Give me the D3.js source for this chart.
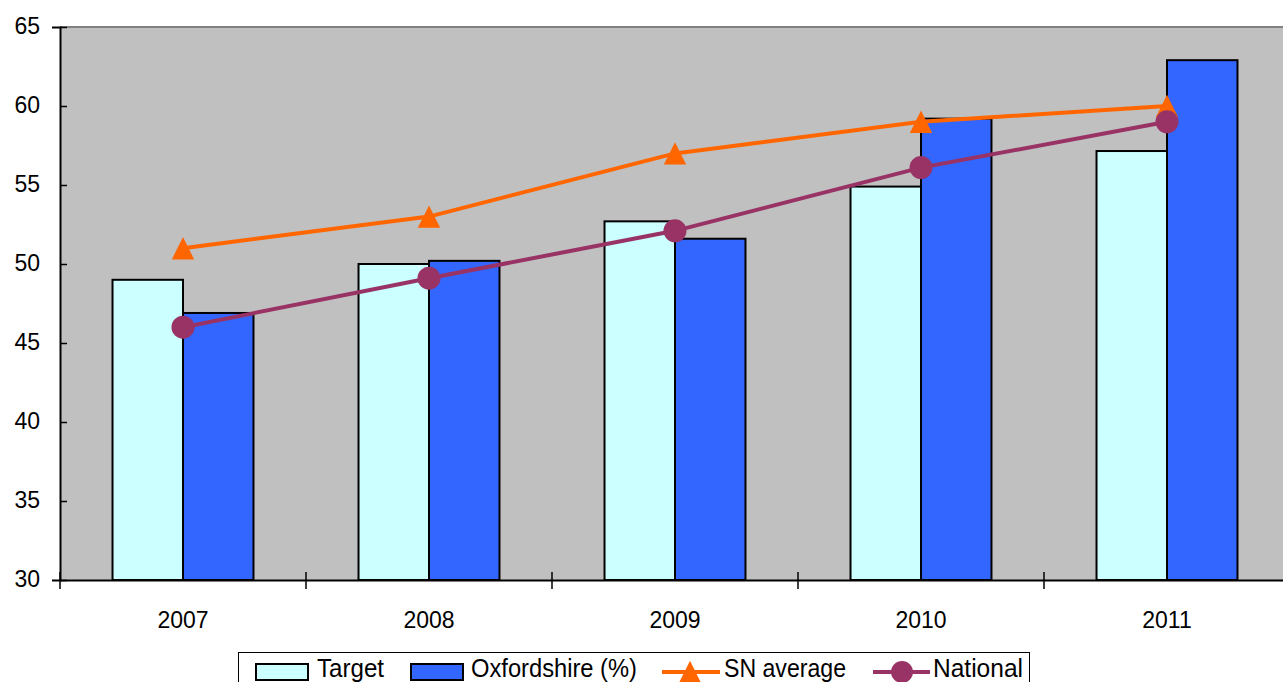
<!DOCTYPE html>
<html>
<head>
<meta charset="utf-8">
<script src="https://cdn.jsdelivr.net/npm/d3@7"></script>
<style>
    body { margin: 0; background: #fff; overflow: hidden; }
    svg { display: block; font-family: Arial, "Liberation Sans", sans-serif; }
</style>
</head>
<body>
<div id="chart"></div>
<script>

// chart data
let years = ["2007", "2008", "2009", "2010", "2011"];
let target = [49, 50, 52.7, 54.9, 57.15];
let oxfordshire = [46.9, 50.2, 51.6, 59.2, 62.9];
let snAverage = [51, 53, 57, 59, 60];
let national = [46, 49.1, 52.1, 56.1, 59];
let yTicks = [30, 35, 40, 45, 50, 55, 60, 65];

let margin = {top: 27, right: -7, bottom: 102, left: 60};
let width = 1283 - margin.left - margin.right;
let height = 682 - margin.top - margin.bottom;

let svg = d3.select("#chart").append("svg")
    .attr("width", 1283)
    .attr("height", 682)
    .append("g")
    .attr("transform", `translate(${margin.left}, ${margin.top})`);

// excel style triangle, centred on its bounding box
let excelTriangle = {
    draw(context, size) {
        let h = Math.sqrt(size);
        context.moveTo(0, -h / 2);
        context.lineTo(h / 2, h / 2);
        context.lineTo(-h / 2, h / 2);
        context.closePath();
    }
};

// scales
let x = d3.scaleBand()
    .domain(years)
    .range([0, width])
    .paddingInner(0.427)
    .paddingOuter(0.2135);

let xSub = d3.scaleBand()
    .domain(["target", "oxon"])
    .range([0, x.bandwidth()]);

let y = d3.scaleLinear()
    .domain([30, 65])
    .range([height, 0]);

// plot background
svg.append("rect")
    .attr("x", 0)
    .attr("y", 0)
    .attr("width", width)
    .attr("height", height)
    .attr("fill", "#c0c0c0");

svg.append("line")
    .attr("x1", 0).attr("x2", width)
    .attr("y1", 0).attr("y2", 0)
    .attr("stroke", "#808080")
    .attr("stroke-width", 2);

// bars
let rows = years.map((d, i) => ({year: d, target: target[i], oxon: oxfordshire[i]}));

let groups = svg.selectAll(".year")
    .data(rows)
    .enter()
    .append("g")
    .attr("class", "year")
    .attr("transform", d => `translate(${x(d.year)}, 0)`);

groups.append("rect")
    .attr("x", xSub("target"))
    .attr("y", d => y(d.target))
    .attr("width", xSub.bandwidth())
    .attr("height", d => height - y(d.target))
    .attr("fill", "#ccffff")
    .attr("stroke", "#000")
    .attr("stroke-width", 2);

groups.append("rect")
    .attr("x", xSub("oxon"))
    .attr("y", d => y(d.oxon))
    .attr("width", xSub.bandwidth())
    .attr("height", d => height - y(d.oxon))
    .attr("fill", "#3366ff")
    .attr("stroke", "#000")
    .attr("stroke-width", 2);

// axes
let yAxis = d3.axisLeft(y).tickValues(yTicks).tickSize(8).tickPadding(12);
let yG = svg.append("g").attr("class", "axis y-axis").call(yAxis);
yG.select(".domain").attr("stroke", "#000").attr("stroke-width", 2);
yG.selectAll(".tick line").attr("x2", 7).attr("stroke", "#000").attr("stroke-width", 1.5);
yG.selectAll(".tick text")
    .attr("font-size", "23px")
    .attr("fill", "#000")
    .attr("dy", "0.28em");

let xAxis = d3.axisBottom(x).tickSize(0).tickPadding(32);
let xG = svg.append("g")
    .attr("class", "axis x-axis")
    .attr("transform", "translate(0," + height + ")")
    .call(xAxis);
xG.select(".domain").attr("stroke", "#000").attr("stroke-width", 2);
xG.selectAll(".tick text")
    .attr("font-size", "23px")
    .attr("fill", "#000");

// category boundary ticks crossing the axis
let half = (x.step() - x.bandwidth()) / 2;
let bounds = years.map(d => x(d) - half);
svg.selectAll(".xtick")
    .data(bounds)
    .enter()
    .append("line")
    .attr("class", "xtick")
    .attr("x1", d => d).attr("x2", d => d)
    .attr("y1", height - 8).attr("y2", height + 9)
    .attr("stroke", "#000")
    .attr("stroke-width", 1.5);

// lines
let cx = d => x(d) + x.bandwidth() / 2;

let line = d3.line()
    .x(d => cx(d.year))
    .y(d => y(d.v));

let snData = years.map((d, i) => ({year: d, v: snAverage[i]}));
let natData = years.map((d, i) => ({year: d, v: national[i]}));

svg.append("path")
    .datum(snData)
    .attr("d", line)
    .attr("fill", "none")
    .attr("stroke", "#ff6600")
    .attr("stroke-width", 4);

svg.selectAll(".sn-marker")
    .data(snData)
    .enter()
    .append("path")
    .attr("class", "sn-marker")
    .attr("d", d3.symbol().type(excelTriangle).size(500))
    .attr("transform", d => `translate(${cx(d.year)}, ${y(d.v)})`)
    .attr("fill", "#ff6600");

svg.append("path")
    .datum(natData)
    .attr("d", line)
    .attr("fill", "none")
    .attr("stroke", "#993366")
    .attr("stroke-width", 4);

svg.selectAll(".nat-marker")
    .data(natData)
    .enter()
    .append("circle")
    .attr("class", "nat-marker")
    .attr("cx", d => cx(d.year))
    .attr("cy", d => y(d.v))
    .attr("r", 11.5)
    .attr("fill", "#993366");

// legend
let legend = d3.select("svg").append("g").attr("class", "legend");

legend.append("rect")
    .attr("x", 238.5)
    .attr("y", 652.5)
    .attr("width", 791)
    .attr("height", 40)
    .attr("fill", "#fff")
    .attr("stroke", "#000")
    .attr("stroke-width", 1);

let legendText = [
    {label: "Target", x: 317, w: 67},
    {label: "Oxfordshire (%)", x: 471, w: 166},
    {label: "SN average", x: 724, w: 122},
    {label: "National", x: 933, w: 90}
];

legend.selectAll("text")
    .data(legendText)
    .enter()
    .append("text")
    .attr("x", d => d.x)
    .attr("y", 677)
    .attr("font-size", "26px")
    .attr("textLength", d => d.w)
    .attr("lengthAdjust", "spacingAndGlyphs")
    .text(d => d.label);

legend.append("rect")
    .attr("x", 256).attr("y", 664)
    .attr("width", 52).attr("height", 16)
    .attr("fill", "#ccffff").attr("stroke", "#000").attr("stroke-width", 2);

legend.append("rect")
    .attr("x", 411).attr("y", 664)
    .attr("width", 52).attr("height", 16)
    .attr("fill", "#3366ff").attr("stroke", "#000").attr("stroke-width", 2);

legend.append("line")
    .attr("x1", 662).attr("x2", 720).attr("y1", 672).attr("y2", 672)
    .attr("stroke", "#ff6600").attr("stroke-width", 4);
legend.append("path")
    .attr("d", d3.symbol().type(excelTriangle).size(500))
    .attr("transform", "translate(690, 672)")
    .attr("fill", "#ff6600");

legend.append("line")
    .attr("x1", 873).attr("x2", 930).attr("y1", 672).attr("y2", 672)
    .attr("stroke", "#993366").attr("stroke-width", 4);
legend.append("circle")
    .attr("cx", 902).attr("cy", 672).attr("r", 11)
    .attr("fill", "#993366");

</script>
</body>
</html>
